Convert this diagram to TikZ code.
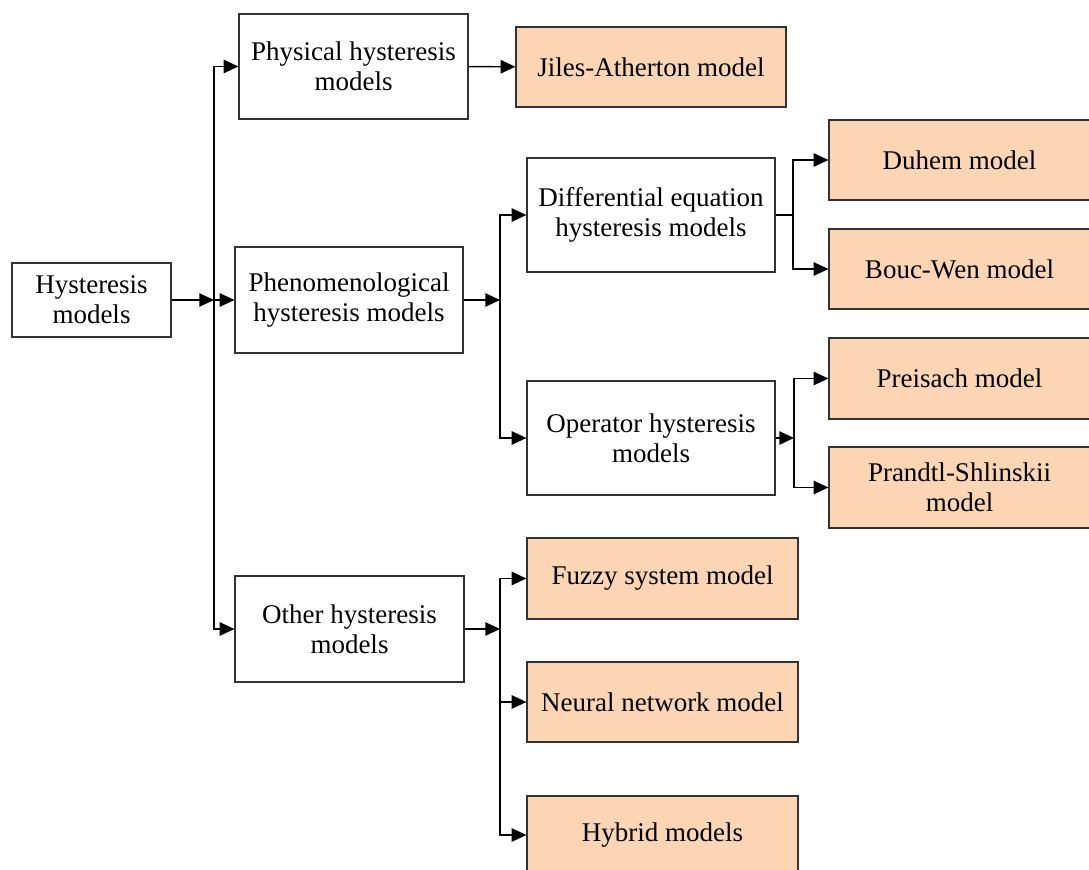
\documentclass[tikz,border=0pt]{standalone}
\usepackage{fontspec}
\setmainfont{Liberation Serif}
\usetikzlibrary{arrows.meta}
\definecolor{peach}{RGB}{252,213,181}

\begin{document}
\begin{tikzpicture}[x=0.75pt,y=-0.75pt,
  box/.style={draw=black!80, line width=0.9pt, rectangle, align=center, inner sep=2pt,
    font=\fontsize{20.25}{22.5}\selectfont},
  leaf/.style={box, fill=peach},
  link/.style={line width=1.1pt},
  arr/.style={link, -{Triangle[length=11pt,width=10pt]}}]
\useasboundingbox (0,0) rectangle (1089,870);

\node[box, minimum width=119.25pt, minimum height=55.5pt] (HM) at (91.5,300) {Hysteresis\\models};

\node[box, minimum width=171.75pt, minimum height=78.75pt] (PHY) at (353.5,66.5) {Physical hysteresis\\models};
\node[box, minimum width=171pt, minimum height=79.5pt] (PHE) at (349,300) {Phenomenological\\hysteresis models};
\node[box, minimum width=171.75pt, minimum height=79.5pt] (OTH) at (349.5,629) {Other hysteresis\\models};

\node[leaf, minimum width=202.5pt, minimum height=60pt] (JIL) at (651,67) {Jiles-Atherton model};

\node[box, minimum width=186pt, minimum height=85.5pt] (DIF) at (651,215) {Differential equation\\hysteresis models};
\node[box, minimum width=186pt, minimum height=85.5pt] (OPE) at (651,438) {Operator hysteresis\\models};

\node[leaf, minimum width=195.75pt, minimum height=60pt] (DUH) at (959.5,160) {Duhem model};
\node[leaf, minimum width=195.75pt, minimum height=60pt] (BOU) at (959.5,269) {Bouc-Wen model};
\node[leaf, minimum width=195.75pt, minimum height=60.75pt] (PRE) at (959.5,378.5) {Preisach model};
\node[leaf, minimum width=195.75pt, minimum height=60.75pt] (PRA) at (959.5,487.5) {Prandtl-Shlinskii\\model};

\node[leaf, minimum width=203.25pt, minimum height=60.75pt] (FUZ) at (662.5,578.5) {Fuzzy system model};
\node[leaf, minimum width=203.25pt, minimum height=60pt] (NEU) at (662.5,702) {Neural network model};
\node[leaf, minimum width=203.25pt, minimum height=58.5pt] (HYB) at (662.5,835) {Hybrid models};

% branch points
\coordinate (J1) at (214,300);
\coordinate (J2) at (500,300);
\coordinate (J3) at (793,215);
\coordinate (J4) at (794,438);
\coordinate (J5) at (500,629);

\draw[arr] (HM) -- (J1);
\draw[arr] (J1) |- (PHY);
\draw[arr] (J1) -- (PHE);
\draw[arr] (J1) |- (OTH);

\draw[arr] (PHY) -- (JIL);

\draw[arr] (PHE) -- (J2);
\draw[arr] (J2) |- (DIF);
\draw[arr] (J2) |- (OPE);

\draw[link] (DIF) -- (J3);
\draw[arr] (J3) |- (DUH);
\draw[arr] (J3) |- (BOU);

\draw[arr] (OPE) -- (J4);
\draw[arr] (J4) |- (PRE);
\draw[arr] (J4) |- (PRA);

\draw[arr] (OTH) -- (J5);
\draw[arr] (J5) |- (FUZ);
\draw[arr] (J5 |- NEU) -- (NEU);
\draw[arr] (J5) |- (HYB);
\end{tikzpicture}
\end{document}
